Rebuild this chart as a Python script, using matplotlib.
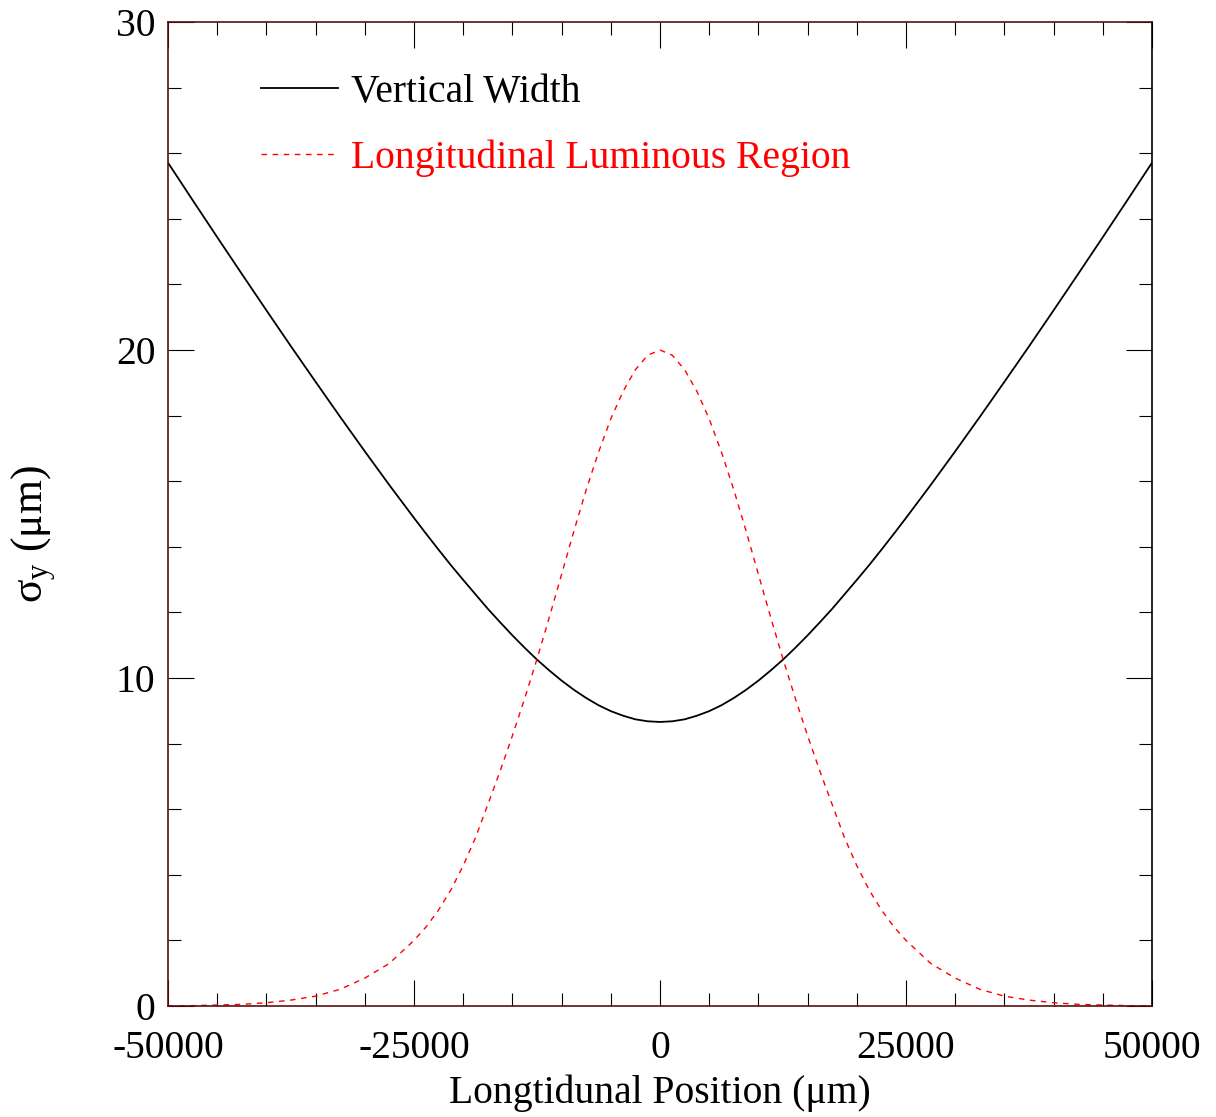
import numpy as np
import matplotlib
matplotlib.use("Agg")
import matplotlib.pyplot as plt
from matplotlib.ticker import MultipleLocator

plt.rcParams['font.family'] = ['Liberation Serif', 'DejaVu Serif']
plt.rcParams['mathtext.fontset'] = 'custom'
plt.rcParams['mathtext.rm'] = 'Liberation Serif'
plt.rcParams['mathtext.it'] = 'Liberation Serif'
plt.rcParams['axes.unicode_minus'] = False

# Position longitudinale (um)
z = [-50000, -47500, -45000, -42500, -40000, -37500, -35000, -32500, -30000,
     -27500, -25000, -23750, -22500, -21250, -20000, -18750, -17500, -16250,
     -15000, -13750, -12500, -11250, -10000, -8750, -7500, -6250, -5000,
     -3750, -2500, -1250, 0, 1250, 2500, 3750, 5000, 6250, 7500, 8750,
     10000, 11250, 12500, 13750, 15000, 16250, 17500, 18750, 20000, 21250,
     22500, 23750, 25000, 27500, 30000, 32500, 35000, 37500, 40000, 42500,
     45000, 47500, 50000]

# Largeur verticale sigma_y (um)
largeur_verticale = [25.71, 24.57, 23.44, 22.32, 21.21, 20.11, 19.03, 17.96,
                     16.91, 15.88, 14.88, 14.39, 13.91, 13.44, 12.99, 12.55,
                     12.11, 11.70, 11.30, 10.92, 10.56, 10.23, 9.92, 9.64,
                     9.39, 9.17, 8.99, 8.85, 8.74, 8.68, 8.66, 8.68, 8.74,
                     8.85, 8.99, 9.17, 9.39, 9.64, 9.92, 10.23, 10.56, 10.92,
                     11.30, 11.70, 12.11, 12.55, 12.99, 13.44, 13.91, 14.39,
                     14.88, 15.88, 16.91, 17.96, 19.03, 20.11, 21.21, 22.32,
                     23.44, 24.57, 25.71]

# Region lumineuse longitudinale (unites arbitraires)
region_lumineuse = [0.005, 0.01, 0.03, 0.05, 0.10, 0.18, 0.30, 0.51, 0.85,
                    1.30, 2.00, 2.42, 2.93, 3.54, 4.28, 5.13, 6.14, 7.16,
                    8.24, 9.38, 10.58, 11.85, 13.16, 14.48, 15.74, 16.88,
                    17.90, 18.74, 19.40, 19.84, 20.0, 19.84, 19.40, 18.74,
                    17.90, 16.88, 15.74, 14.48, 13.16, 11.85, 10.58, 9.38,
                    8.24, 7.16, 6.14, 5.13, 4.28, 3.54, 2.93, 2.42, 2.00,
                    1.30, 0.85, 0.51, 0.30, 0.18, 0.10, 0.05, 0.03, 0.01,
                    0.005]

fs = 28.5

fig = plt.figure(figsize=(12.16, 11.17), dpi=100)
ax = fig.add_axes([168/1216, 1 - 1006/1117, 984/1216, 984/1117])

ax.plot(z, largeur_verticale, color='black', lw=1.3, label='Vertical Width')
ax.plot(z, region_lumineuse, color='red', lw=1.0, dashes=(4, 4),
        label='Longitudinal Luminous Region')

ax.set_xlim(-50000, 50000)
ax.set_ylim(0, 30)
ax.xaxis.set_major_locator(MultipleLocator(25000))
ax.xaxis.set_minor_locator(MultipleLocator(5000))
ax.yaxis.set_major_locator(MultipleLocator(10))
ax.yaxis.set_minor_locator(MultipleLocator(2))
ax.tick_params(which='both', direction='in', top=True, right=True,
               labelsize=fs, width=0.8)
ax.tick_params(axis='y', which='both', pad=9)
ax.tick_params(axis='x', which='both', pad=17)
ax.tick_params(which='major', length=19)
ax.tick_params(which='minor', length=9.5)

for cote in ['left', 'top', 'bottom']:
    ax.spines[cote].set_color('#5a1010')
for cote in ax.spines:
    ax.spines[cote].set_linewidth(1.2)

ax.set_xlabel('Longtidunal Position (μm)', fontsize=fs, labelpad=6)
ax.set_ylabel(r'$\mathregular{\sigma_y}$ (μm)', fontsize=fs + 3)
ax.yaxis.set_label_coords(-0.112, 0.48)

leg = ax.legend(loc='upper left', bbox_to_anchor=(0.0945, 0.947),
                frameon=False, fontsize=fs, handlelength=1.95,
                handletextpad=0.32, labelspacing=0.72, borderpad=0,
                borderaxespad=0)
for texte, ligne in zip(leg.get_texts(), leg.get_lines()):
    texte.set_color(ligne.get_color())

fig.savefig('out.png', dpi=100)
